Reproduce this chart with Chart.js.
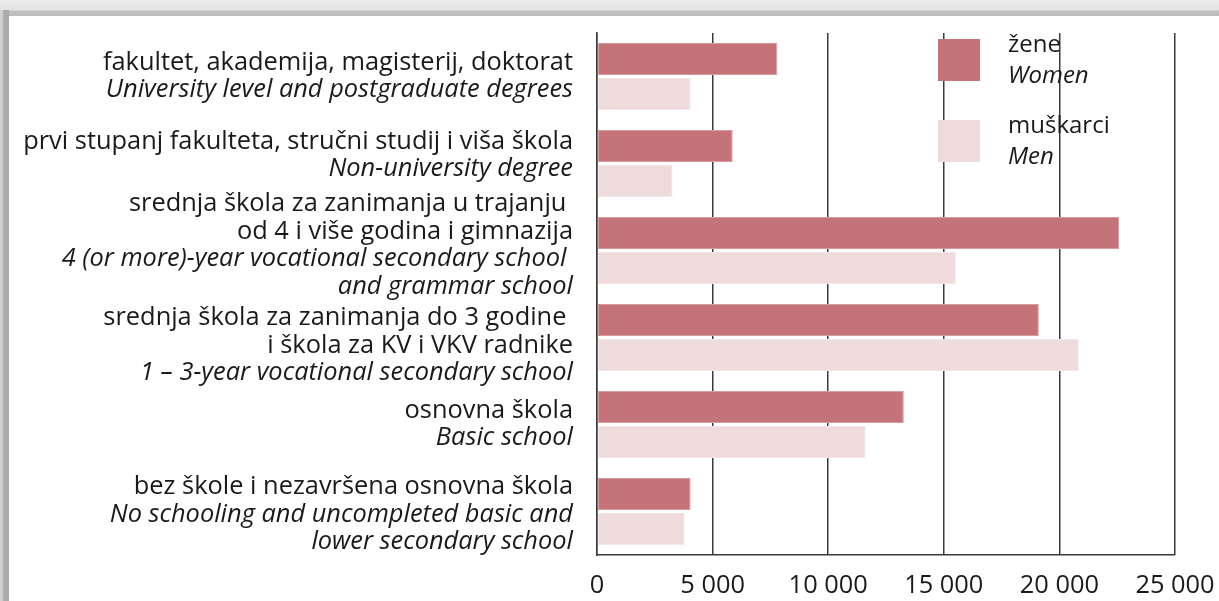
<!DOCTYPE html>
<html>
<head>
<meta charset="utf-8">
<script src="https://cdn.jsdelivr.net/npm/chart.js@4/dist/chart.umd.min.js"></script>
<style>
  html, body { margin: 0; padding: 0; background: #fff; }
  #wrap { position: relative; width: 1219px; height: 601px; overflow: hidden; }
  #chart { position: absolute; left: 0; top: 0; }
  .frame-top { position: absolute; left: 0; top: 0; width: 1219px; height: 16px;
    background: linear-gradient(to bottom, #ececec 0%, #e3e3e3 62%, #bfbfbf 70%, #bdbdbd 100%); }
  .frame-left { position: absolute; left: 0; top: 10px; width: 9px; height: 591px;
    background: linear-gradient(to right, #d2d2d2 0%, #cdcdcd 33%, #ababab 40%, #a9a9a9 100%); }
</style>
</head>
<body>
<div id="wrap">
  <canvas id="chart" width="1219" height="601"></canvas>
  <div class="frame-top"></div>
  <div class="frame-left"></div>
</div>
<script>
// kategorije (hrvatski / engleski redovi)
const labelsHr = [
  ['fakultet, akademija, magisterij, doktorat'],
  ['prvi stupanj fakulteta, stručni studij i viša škola'],
  ['srednja škola za zanimanja u trajanju ', 'od 4 i više godina i gimnazija'],
  ['srednja škola za zanimanja do 3 godine ', 'i škola za KV i VKV radnike'],
  ['osnovna škola'],
  ['bez škole i nezavršena osnovna škola']
];
const labelsEn = [
  ['University level and postgraduate degrees'],
  ['Non-university degree'],
  ['4 (or more)-year vocational secondary school ', 'and grammar school'],
  ['1 – 3-year vocational secondary school'],
  ['Basic school'],
  ['No schooling and uncompleted basic and', 'lower secondary school']
];
const women = [7800, 5870, 22580, 19110, 13270, 4050];
const men = [4050, 3270, 15520, 20840, 11620, 3790];
const seriesHr = ['žene', 'muškarci'];
const seriesEn = ['Women', 'Men'];
const xTicks = [0, 5000, 10000, 15000, 20000, 25000];

const FONT = '"Open Sans"';
const FS = 25.4;
const colWomen = '#c47378';
const colMen = '#efdbdb';
// pomak blokova teksta u odnosu na sredinu kategorije (px)
const labelNudge = [0, -8, -5, 8, 0, 3];

const fmt = v => String(v).replace(/\B(?=(\d{3})+(?!\d))/g, ' ');

// crta višeredne oznake kategorija i legendu
const textPlugin = {
  id: 'textPlugin',
  afterDraw(chart) {
    const c = chart.ctx;
    const y = chart.scales.y;
    const area = chart.chartArea;
    const lh = 27.5;
    c.save();
    c.fillStyle = '#1a1a1a';
    c.textAlign = 'right';
    c.textBaseline = 'middle';
    labelsHr.forEach((hr, i) => {
      const lines = hr.map(t => [t, false]).concat(labelsEn[i].map(t => [t, true]));
      const cy = y.getPixelForValue(i) + labelNudge[i];
      let ty = cy - (lines.length - 1) * lh / 2;
      lines.forEach(([t, it]) => {
        c.font = (it ? 'italic ' : '') + FS + 'px ' + FONT;
        c.fillText(t, area.left - 24, ty);
        ty += lh;
      });
    });
    // legenda
    c.textAlign = 'left';
    chart.data.datasets.forEach((ds, i) => {
      const bx = area.right - 237;
      const by = area.top + 6 + i * 81;
      c.fillStyle = ds.backgroundColor;
      c.fillRect(bx, by, 42, 42);
      c.fillStyle = '#1a1a1a';
      c.font = '24px ' + FONT;
      c.fillText(seriesHr[i], bx + 70, by + 6);
      c.font = 'italic 24px ' + FONT;
      c.fillText(seriesEn[i], bx + 70, by + 37);
    });
    c.restore();
  }
};

new Chart(document.getElementById('chart'), {
  type: 'bar',
  data: {
    labels: labelsHr.map(l => l.join(' ')),
    datasets: [
      { label: seriesHr[0], data: women, backgroundColor: colWomen, borderColor: '#d99a9e', borderWidth: 1, borderSkipped: false,
        categoryPercentage: 0.8, barPercentage: 0.92 },
      { label: seriesHr[1], data: men, backgroundColor: colMen, borderColor: '#f5e6e6', borderWidth: 1, borderSkipped: false,
        categoryPercentage: 0.8, barPercentage: 0.92 }
    ]
  },
  options: {
    responsive: false,
    animation: false,
    indexAxis: 'y',
    layout: { padding: { top: 33, right: 44, left: 0, bottom: 0 } },
    plugins: { legend: { display: false }, tooltip: { enabled: false } },
    scales: {
      x: {
        min: 0, max: 25000,
        afterBuildTicks: s => { s.ticks = xTicks.map(v => ({ value: v })); },
        afterFit: s => { s.height = 46; s.paddingLeft = 0; s.paddingRight = 0; },
        grid: { color: '#3a3a3a', lineWidth: 1.5, drawTicks: false },
        border: { display: true, color: '#3a3a3a', width: 1.5 },
        ticks: {
          padding: 16, color: '#1a1a1a', maxRotation: 0,
          font: { family: 'Open Sans', size: 25.4 },
          callback: v => fmt(v)
        }
      },
      y: {
        afterFit: s => { s.width = 597; },
        grid: { display: false },
        border: { display: true, color: '#3a3a3a', width: 1.5 },
        ticks: { display: false }
      }
    }
  },
  plugins: [textPlugin]
});
</script>
</body>
</html>
